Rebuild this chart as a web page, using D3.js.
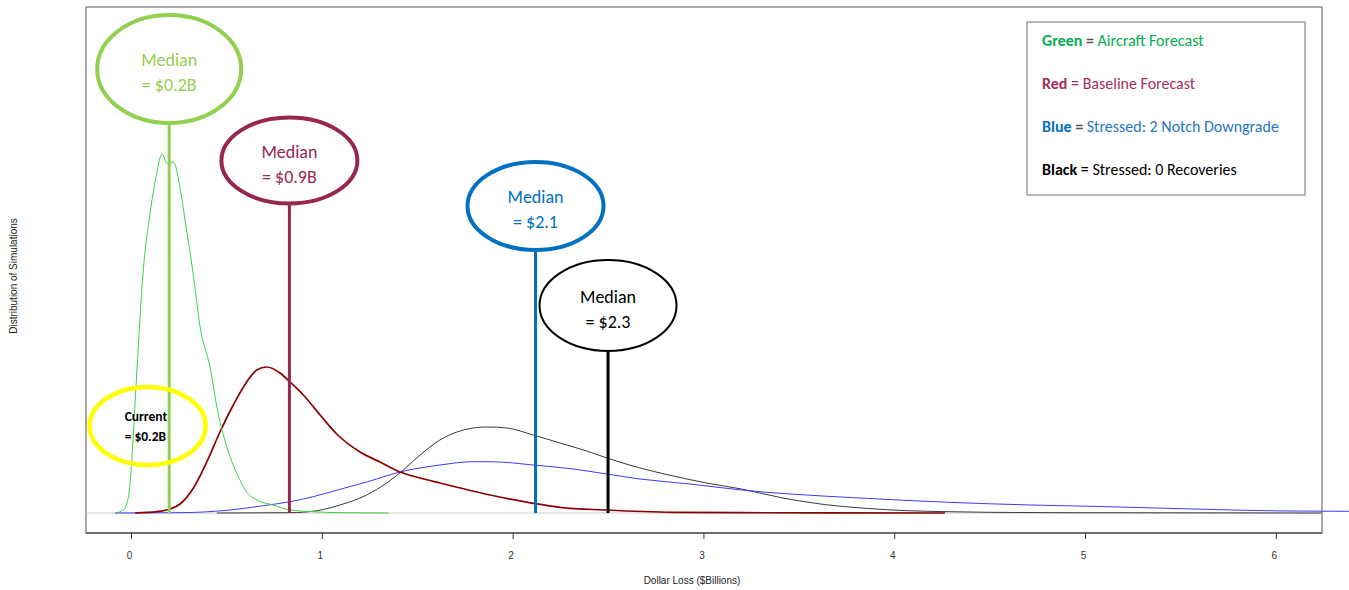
<!DOCTYPE html>
<html>
<head>
<meta charset="utf-8">
<script src="https://cdn.jsdelivr.net/npm/d3@7"></script>
<style>
body { margin: 0; background: #fff; }
svg { display: block; }
</style>
</head>
<body>
<div id="chart"></div>
<script>
// values (x = $ billions, y = density)
var xTicks = [0, 1, 2, 3, 4, 5, 6]

var greenX = [-0.084, -0.04, -0.01, 0.0, 0.03, 0.063, 0.10, 0.13, 0.163, 0.19, 0.222, 0.257, 0.283, 0.325, 0.362, 0.414, 0.456, 0.502, 0.535, 0.571, 0.606, 0.659, 0.744, 0.833, 0.954, 1.095, 1.35]
var greenY = [0, 0.03, 0.2, 0.42, 1.40, 2.40, 3.0, 3.35, 3.59, 3.49, 3.51, 3.25, 2.93, 2.40, 1.86, 1.46, 1.0, 0.66, 0.48, 0.33, 0.21, 0.13, 0.08, 0.03, 0.013, 0.003, 0]

var redX = [0.021, 0.135, 0.204, 0.257, 0.327, 0.397, 0.466, 0.536, 0.606, 0.659, 0.711, 0.781, 0.833, 0.903, 0.991, 1.078, 1.20, 1.305, 1.41, 1.515, 1.619, 1.882, 2.108, 2.248, 2.493, 2.841, 3.192, 4.266]
var redY = [0, 0.013, 0.04, 0.09, 0.25, 0.51, 0.81, 1.08, 1.31, 1.43, 1.46, 1.40, 1.31, 1.18, 0.98, 0.79, 0.61, 0.51, 0.41, 0.35, 0.30, 0.18, 0.097, 0.057, 0.03, 0.007, 0.003, 0]

var blueX = [-0.084, 0.257, 0.519, 0.693, 0.833, 0.955, 1.095, 1.235, 1.41, 1.619, 1.794, 1.899, 2.108, 2.318, 2.493, 2.668, 2.93, 3.199, 3.416, 3.85, 4.283, 4.717, 5.079, 5.428, 5.777, 6.057, 6.384]
var blueY = [0, 0.003, 0.03, 0.073, 0.113, 0.163, 0.237, 0.31, 0.41, 0.48, 0.513, 0.512, 0.48, 0.44, 0.39, 0.34, 0.29, 0.23, 0.195, 0.147, 0.107, 0.08, 0.065, 0.047, 0.03, 0.02, 0.017]

var blackX = [0.45, 0.833, 0.973, 1.095, 1.235, 1.34, 1.427, 1.515, 1.619, 1.724, 1.864, 1.969, 2.108, 2.248, 2.388, 2.51, 2.668, 2.842, 3.017, 3.199, 3.416, 3.633, 3.85, 4.067, 4.283, 4.5, 4.826, 6.24]
var blackY = [0, 0.003, 0.023, 0.08, 0.18, 0.30, 0.43, 0.58, 0.73, 0.82, 0.86, 0.85, 0.78, 0.70, 0.62, 0.54, 0.45, 0.37, 0.30, 0.24, 0.15, 0.085, 0.047, 0.023, 0.013, 0.007, 0.003, 0]

var medianValues = [0.2, 0.83, 2.12, 2.5]
var medianLabels = ["= $0.2B", "= $0.9B", "= $2.1", "= $2.3"]
var currentValue = 0.087
var currentLabels = ["Current", "= $0.2B"]

var legendKeys = ["Green", "Red", "Blue", "Black"]
var legendTexts = ["Aircraft Forecast", "Baseline Forecast", "Stressed: 2 Notch Downgrade", "Stressed: 0 Recoveries"]

// layout
var W = 1349, H = 590
var box = {left: 86, right: 1322, top: 7, bottom: 533}

var svg = d3.select("#chart").append("svg")
  .attr("width", W)
  .attr("height", H)

var x = d3.scaleLinear().domain([-0.236, 6.242]).range([box.left, box.right])
var y = d3.scaleLinear().domain([-0.2, 5.06]).range([box.bottom, box.top])

// plot frame
svg.append("rect")
  .attr("x", box.left).attr("y", box.top)
  .attr("width", box.right - box.left).attr("height", box.bottom - box.top)
  .attr("fill", "none").attr("stroke", "#555").attr("stroke-width", 1)

// x axis
var xAxis = svg.append("g")
  .attr("transform", "translate(0," + box.bottom + ")")
  .call(d3.axisBottom(x).tickValues(xTicks).tickSize(6).tickPadding(13).tickFormat(d3.format("d")))
xAxis.select(".domain").remove()
xAxis.selectAll("line").attr("stroke", "#333")
xAxis.selectAll("text")
  .attr("font-family", "'Liberation Sans', Arial, sans-serif")
  .attr("font-size", 10)
  .attr("fill", "#333")
  .attr("dx", -2)
svg.append("line")
  .attr("x1", box.left).attr("x2", box.right)
  .attr("y1", box.bottom).attr("y2", box.bottom)
  .attr("stroke", "#333")

svg.append("text")
  .attr("x", x(2.94)).attr("y", 584)
  .attr("text-anchor", "middle")
  .attr("font-family", "'Liberation Sans', Arial, sans-serif")
  .attr("font-size", 10).attr("fill", "#222")
  .text("Dollar Loss ($Billions)")

svg.append("text")
  .attr("transform", "translate(17," + 276 + ") rotate(-90)")
  .attr("text-anchor", "middle")
  .attr("font-family", "'Liberation Sans', Arial, sans-serif")
  .attr("font-size", 10).attr("fill", "#222")
  .text("Distribution of Simulations")

// zero line
svg.append("line")
  .attr("x1", box.left).attr("x2", box.right)
  .attr("y1", y(0)).attr("y2", y(0))
  .attr("stroke", "#c8c8c8").attr("stroke-width", 1)

var line = d3.line()
  .x(function(d) { return x(d[0]) })
  .y(function(d) { return y(d[1]) })
  .curve(d3.curveMonotoneX)

function pairs(xs, ys) {
  return xs.map(function(v, i) { return [v, ys[i]] })
}

var series = [
  {data: pairs(blackX, blackY), color: "#3a3a3a", w: 1},
  {data: pairs(blueX, blueY), color: "#3b3bff", w: 1},
  {data: pairs(redX, redY), color: "#8b0000", w: 1.7},
  {data: pairs(greenX, greenY), color: "#3fd13f", w: 1}
]

svg.selectAll("path.dens")
  .data(series)
  .enter()
  .append("path")
  .attr("class", "dens")
  .attr("fill", "none")
  .attr("stroke", function(d) { return d.color })
  .attr("stroke-width", function(d) { return d.w })
  .attr("d", function(d) { return line(d.data) })

// median callouts
var calloutStyle = [
  {color: "#92d050", cy: 69, rx: 72, ry: 54, sw: 4, text: "#92d050"},
  {color: "#98274f", cy: 160.5, rx: 68, ry: 43, sw: 4, text: "#98274f"},
  {color: "#0070c0", cy: 206, rx: 68, ry: 44, sw: 4, text: "#0070c0"},
  {color: "#000000", cy: 305.5, rx: 68.5, ry: 45.5, sw: 2, text: "#000000"}
]

medianValues.forEach(function(v, i) {
  var s = calloutStyle[i]
  var cx = x(v)
  svg.append("line")
    .attr("x1", cx).attr("x2", cx)
    .attr("y1", s.cy + s.ry).attr("y2", y(0))
    .attr("stroke", s.color).attr("stroke-width", 3)
  svg.append("ellipse")
    .attr("cx", cx).attr("cy", s.cy)
    .attr("rx", s.rx).attr("ry", s.ry)
    .attr("fill", "#fff").attr("stroke", s.color).attr("stroke-width", s.sw)
  var t = svg.append("text")
    .attr("text-anchor", "middle")
    .attr("font-family", "Carlito, Lato, sans-serif")
    .attr("font-size", 18)
    .attr("fill", s.text)
  t.append("tspan").attr("x", cx).attr("y", s.cy - 3).text("Median")
  t.append("tspan").attr("x", cx).attr("y", s.cy + 22).text(medianLabels[i])
})

// current value callout
svg.append("ellipse")
  .attr("cx", x(currentValue)).attr("cy", 426)
  .attr("rx", 58).attr("ry", 39)
  .attr("fill", "none").attr("stroke", "#ffff00").attr("stroke-width", 4.5)
var ct = svg.append("text")
  .attr("font-family", "Carlito, Lato, sans-serif")
  .attr("font-size", 13.5).attr("font-weight", "bold")
  .attr("fill", "#000")
ct.append("tspan").attr("x", x(currentValue) - 23).attr("y", 421).text(currentLabels[0])
ct.append("tspan").attr("x", x(currentValue) - 23).attr("y", 441).text(currentLabels[1])

// legend
var legendColors = [
  {key: "#00b050", eq: "#555", txt: "#00b050", eqBold: true},
  {key: "#a3305b", eq: "#a3305b", txt: "#a3305b", eqBold: false},
  {key: "#0070c0", eq: "#555", txt: "#1f78c8", eqBold: true},
  {key: "#000", eq: "#000", txt: "#000", eqBold: false}
]
svg.append("rect")
  .attr("x", 1027).attr("y", 22)
  .attr("width", 278).attr("height", 173)
  .attr("fill", "#fff").attr("stroke", "#888").attr("stroke-width", 1.2)

legendKeys.forEach(function(k, i) {
  var c = legendColors[i]
  var t = svg.append("text")
    .attr("x", 1042).attr("y", 46 + i * 43)
    .attr("font-family", "Carlito, Lato, sans-serif")
    .attr("font-size", 16)
  t.append("tspan").attr("font-weight", "bold").attr("fill", c.key).text(k)
  t.append("tspan").attr("font-weight", c.eqBold ? "bold" : "normal").attr("fill", c.eq).text(" = ")
  t.append("tspan").attr("fill", c.txt).text(legendTexts[i])
})
</script>
</body>
</html>
